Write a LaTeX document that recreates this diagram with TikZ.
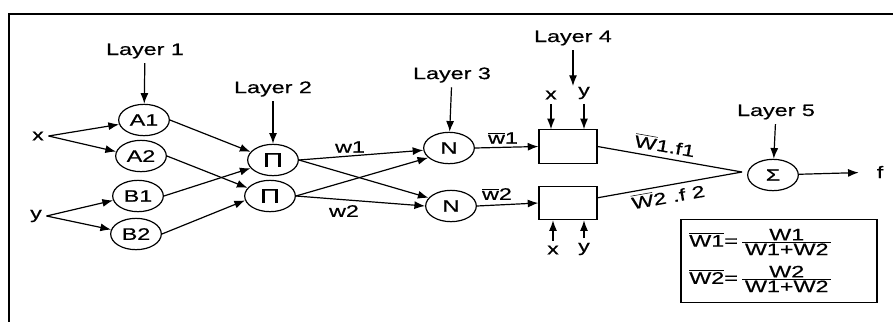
\documentclass[tikz,border=0pt]{standalone}
\usepackage{fontspec}
\setmainfont{Liberation Sans}[FakeStretch=1.4, FakeBold=0.5]
\usepackage{tikz}
\usetikzlibrary{arrows.meta}
\usetikzlibrary{shapes.geometric}
\newcommand{\ovl}[1]{$\overline{\mbox{#1}}$}

\begin{document}
\begin{tikzpicture}[x=0.75pt, y=-0.75pt,
        every node/.style={font=\fontsize{12.5}{15}\selectfont},
        unit/.style={draw, ellipse, line width=0.9pt, minimum width=38pt, minimum height=23.5pt, inner sep=0pt},
        cell/.style={draw, line width=0.9pt, minimum width=43.5pt, minimum height=25pt, inner sep=0pt},
        arr/.style={-{Latex[length=8pt, width=6pt]}, line width=0.9pt},
        wire/.style={line width=0.9pt},
        formula/.style={anchor=west, inner sep=0pt}]
            \useasboundingbox (0,0) rectangle (893,322);
            \draw[line width=1.5pt] (893,14) -- (9,14) -- (9,322);

            % layer nodes
            \node[unit] (A1) at (144,120) {A1};
            \node[unit] (A2) at (141,156) {A2};
            \node[unit] (B1) at (138,196) {B1};
            \node[unit] (B2) at (136,234) {B2};
            \node[unit] (P1) at (273,160) {\fontsize{15}{15}\selectfont Π};
            \node[unit] (P2) at (270,196) {\fontsize{15}{15}\selectfont Π};
            \node[unit] (N1) at (449,148) {N};
            \node[unit] (N2) at (451,206) {N};
            \node[cell] (R1) at (568,146.5) {};
            \node[cell] (R2) at (568,203) {};
            \node[unit] (S) at (773,175) {Σ};

            % inputs and output
            \node (xin) at (38,136) {x};
            \node (yin) at (36,216) {y};
            \node (x4) at (551,95) {x};
            \node (y4) at (584,93) {y};
            \node (x5) at (553,250) {x};
            \node (y5) at (584,249) {y};
            \node (f) at (880,172) {f};
            \coordinate (mid) at (742,172);

            % layer titles
            \node (L1) at (145,51) {Layer 1};
            \node (L2) at (273,89) {Layer 2};
            \node (L3) at (452,75) {Layer 3};
            \node (L4) at (573,38) {Layer 4};
            \node (L5) at (776,112) {Layer 5};
            \coordinate (L4e) at (573,86);

            % labels
            \node at (350,147) {w1};
            \node at (344,211) {w2};
            \node at (503,138) {\ovl{w}1};
            \node at (497,194) {\ovl{w}2};
            \node[rotate=-10] at (665,145) {\ovl{W}1.f1};
            \node[rotate=10] at (668,196) {\ovl{W}2 .f 2};

            % normalisation box
            \node[draw, wire, minimum width=147pt, minimum height=62pt] (F) at (779,261) {};
            \node[formula] (F1) at (689,242)
                {$\overline{\mbox{W1}}\mbox{=}\,\frac{\mbox{\,W1\,}}{\mbox{\,W1+W2\,}}$};
            \node[formula] (F2) at (689,279)
                {$\overline{\mbox{W2}}\mbox{=}\,\frac{\mbox{\,W2\,}}{\mbox{\,W1+W2\,}}$};

            % connections
            \draw[arr] (L1) -- (A1);
            \draw[arr] (L2) -- (P1);
            \draw[arr] (L3) -- (N1);
            \draw[arr] (L4) -- (L4e);
            \draw[arr] (L5) -- (S);
            \draw[arr] (xin.east) -- (A1.190);
            \draw[arr] (xin.east) -- (A2.170);
            \draw[arr] (yin.east) -- (B1.190);
            \draw[arr] (yin.east) -- (B2.170);
            \draw[arr] (A1.east) -- (P1.160);
            \draw[arr] (A2.east) -- (P2.160);
            \draw[arr] (B1.east) -- (P1.200);
            \draw[arr] (B2.east) -- (P2.190);
            \draw[arr] (P1.east) -- (N1.185);
            \draw[arr] (P1.east) -- (N2.160);
            \draw[arr] (P2.east) -- (N1.205);
            \draw[arr] (P2.east) -- (N2.180);
            \draw[arr] (N1.east) -- (R1.west);
            \draw[arr] (N2.east) -- (R2.west);
            \draw[arr] (x4) -- (x4 |- R1.north);
            \draw[arr] (y4) -- (y4 |- R1.north);
            \draw[arr] (x5) -- (x5 |- R2.south);
            \draw[arr] (y5) -- (y5 |- R2.south);
            \draw[wire] (R1.east) -- (mid);
            \draw[wire] (R2.10) -- (mid);
            \draw[arr, shorten >=10pt] (S) -- (f);
\end{tikzpicture}
\end{document}
